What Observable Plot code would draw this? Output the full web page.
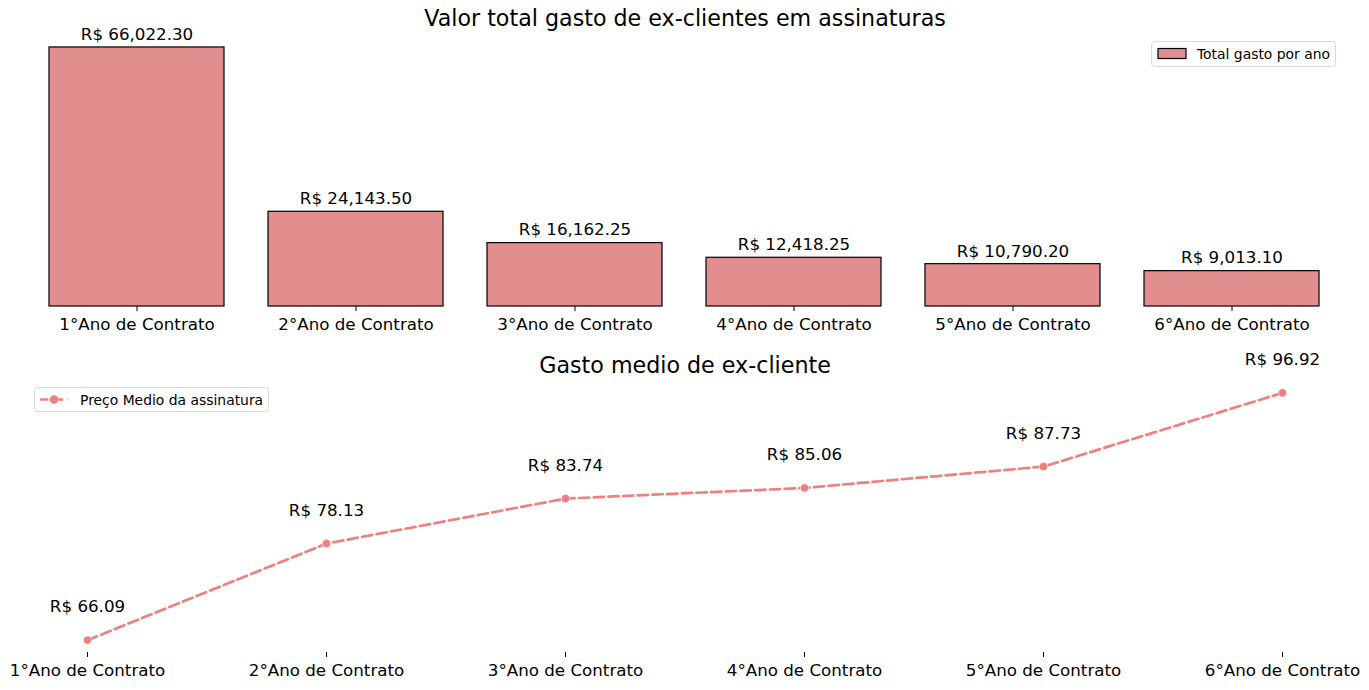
<!DOCTYPE html>
<html>
<head>
<meta charset="utf-8">
<script src="https://cdn.jsdelivr.net/npm/d3@7"></script>
<script src="https://cdn.jsdelivr.net/npm/@observablehq/plot@0.6"></script>
<style>
  body { margin: 0; background: #fff; font-family: "DejaVu Sans", sans-serif; }
  #chart svg { display: block; }
</style>
</head>
<body>
<div id="chart"></div>
<script>
const categories = ["1°Ano de Contrato","2°Ano de Contrato","3°Ano de Contrato","4°Ano de Contrato","5°Ano de Contrato","6°Ano de Contrato"];
const totalValues = [66022.30, 24143.50, 16162.25, 12418.25, 10790.20, 9013.10];
const avgValues = [66.09, 78.13, 83.74, 85.06, 87.73, 96.92];
const titleTop = "Valor total gasto de ex-clientes em assinaturas";
const titleBottom = "Gasto medio de ex-cliente";
const legendTop = "Total gasto por ano";
const legendBottom = "Preço Medio da assinatura";

const barColor = "#e28e8e";
const lineColor = "#f08080";
const font = "DejaVu Sans, sans-serif";

const totals = categories.map((c, i) => ({cat: c, v: totalValues[i]}));
const avgs = categories.map((c, i) => ({cat: c, v: avgValues[i]}));

const fmtTotal = v => "R$ " + d3.format(",.2f")(v);
const fmtAvg = v => "R$ " + d3.format(".2f")(v);

const W = 1369;
const FS = 16.7;
const style = {fontFamily: font, fontSize: FS + "px", color: "#000", background: "#fff", overflow: "visible"};

// Top chart
const maxT = d3.max(totalValues);
const topChart = Plot.plot({
  width: W, height: 345,
  marginLeft: 27, marginRight: 27, marginTop: 34, marginBottom: 39,
  style,
  x: {type: "band", domain: categories, paddingInner: 0.2, paddingOuter: 0.1, label: null},
  y: {domain: [0, maxT * 1.05], axis: null},
  marks: [
    Plot.barY(totals, {x: "cat", y: "v", fill: barColor, stroke: "#000", strokeWidth: 1.2}),
    Plot.text(totals, {x: "cat", y: "v", text: d => fmtTotal(d.v), dy: -13, fontSize: FS, fill: "#000"}),
    Plot.axisX({tickSize: 5, tickPadding: 7, fontSize: FS, fill: "#000", stroke: "#000", label: null}),
    Plot.text([titleTop], {frameAnchor: "top", dy: -24, fontSize: 22.2, fill: "#000"})
  ]
});

// Bottom chart
const minA = d3.min(avgValues), maxA = d3.max(avgValues);
const padA = (maxA - minA) * 0.05;
const bottomChart = Plot.plot({
  width: W, height: 345,
  marginLeft: 27, marginRight: 27, marginTop: 35, marginBottom: 38,
  style,
  x: {type: "point", domain: categories, padding: 0.25, label: null},
  y: {domain: [minA - padA, maxA + padA], axis: null},
  marks: [
    Plot.line(avgs, {x: "cat", y: "v", stroke: lineColor, strokeWidth: 2.7, strokeDasharray: "10.3,4.4"}),
    Plot.dot(avgs, {x: "cat", y: "v", r: 4.2, fill: lineColor, stroke: "#fff", strokeWidth: 0.6}),
    Plot.text(avgs, {x: "cat", y: "v", text: d => fmtAvg(d.v), dy: -33, fontSize: FS, fill: "#000"}),
    Plot.axisX({tickSize: 5, tickPadding: 7, fontSize: FS, fill: "#000", stroke: "#000", label: null}),
    Plot.text([titleBottom], {frameAnchor: "top", dy: -23, fontSize: 22.2, fill: "#000"})
  ]
});

const chart = document.getElementById("chart");
chart.appendChild(topChart);
chart.appendChild(bottomChart);

// Legends
function addLegend(svg, x, y, w, h, drawSample, label) {
  const g = d3.select(svg).append("g").attr("transform", `translate(${x},${y})`);
  g.append("rect").attr("x", 0.5).attr("y", 0.5).attr("width", w).attr("height", h)
    .attr("rx", 3).attr("fill", "#fff").attr("fill-opacity", 0.8).attr("stroke", "#d9d9d9");
  drawSample(g);
  g.append("text").attr("x", 46).attr("y", h / 2 + 1).attr("dy", "0.35em")
    .attr("text-anchor", "start")
    .attr("font-size", 13.9).attr("font-family", font).attr("fill", "#000").text(label);
}
addLegend(topChart, 1151, 41, 184, 25, g => {
  g.append("rect").attr("x", 7).attr("y", 7.5).attr("width", 28).attr("height", 10)
    .attr("fill", barColor).attr("stroke", "#000").attr("stroke-width", 1.2);
}, legendTop);
addLegend(bottomChart, 34, 42, 234, 24, g => {
  g.append("line").attr("x1", 6).attr("x2", 34).attr("y1", 12.5).attr("y2", 12.5)
    .attr("stroke", lineColor).attr("stroke-width", 2.7).attr("stroke-dasharray", "10.3,4.4").attr("stroke-dashoffset", 2);
  g.append("circle").attr("cx", 20).attr("cy", 12.5).attr("r", 4.2).attr("fill", lineColor);
}, legendBottom);
</script>
</body>
</html>
